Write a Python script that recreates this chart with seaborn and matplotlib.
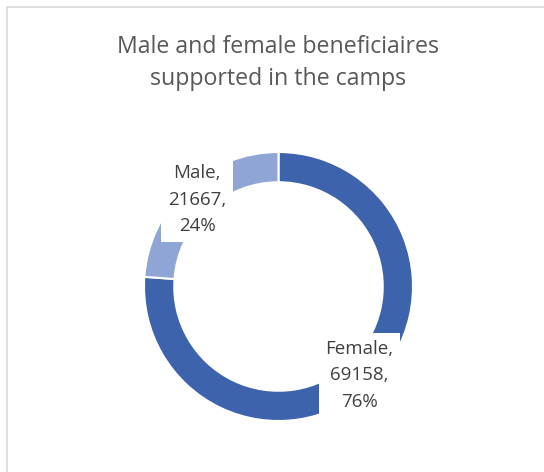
import matplotlib
matplotlib.use("Agg")
import matplotlib.pyplot as plt
import seaborn as sns
from matplotlib.patches import Rectangle

categories = ["Female", "Male"]
values = [69158, 21667]
title = "Male and female beneficiaires\nsupported in the camps"

sns.set_theme(style="white")
plt.rcParams["font.family"] = ["Open Sans", "DejaVu Sans"]

colors = ["#3C63AC", "#8FA5D5"]
title_color = "#595959"
label_color = "#404040"

W, H = 544, 472
fig = plt.figure(figsize=(W / 100, H / 100), dpi=100)
fig.patch.set_facecolor("white")

# chart border
fig.add_artist(Rectangle((7 / W, -0.1), 1.2, (H - 7) / H + 0.1, transform=fig.transFigure,
                         fill=False, edgecolor="#D9D9D9", linewidth=1.2))

cx, cy, r = 278.5, 286.5, 134.5
ax = fig.add_axes([(cx - r) / W, (H - cy - r) / H, 2 * r / W, 2 * r / H])
wedges, _ = ax.pie(values, colors=colors, startangle=90, counterclock=False,
                   wedgeprops=dict(width=0.225, edgecolor="white", linewidth=1.5))
ax.set_xlim(-1, 1)
ax.set_ylim(-1, 1)
ax.axis("off")

total = sum(values)
label_pos = {"Male": (-0.605, 0.645), "Female": (0.60, -0.66)}
for cat, val in zip(categories, values):
    pct = round(100 * val / total)
    x, y = label_pos[cat]
    ax.text(x, y, f"{cat},\n{val},\n{pct}%", ha="center", va="center",
            fontsize=13.5, color=label_color, linespacing=1.6,
            bbox=dict(boxstyle="square,pad=0.35", facecolor="white", edgecolor="none"))

fig.text(278 / W, 1 - 63 / H, title, ha="center", va="center", fontsize=16.7,
         color=title_color, linespacing=1.47)

fig.savefig("out.png", dpi=100, facecolor="white")
